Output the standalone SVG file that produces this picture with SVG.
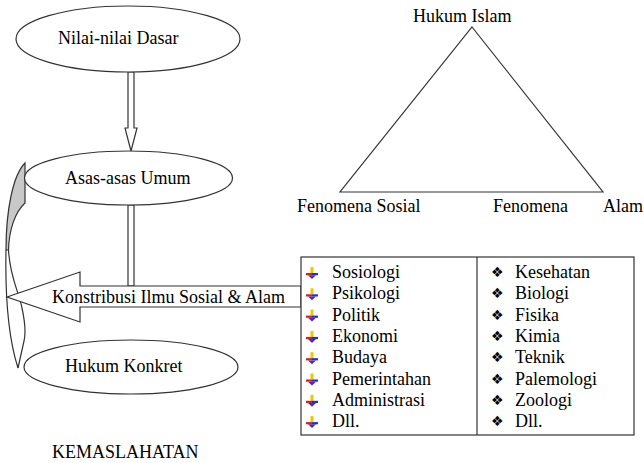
<svg xmlns="http://www.w3.org/2000/svg" width="644" height="463" viewBox="0 0 644 463" font-family="'Liberation Serif', 'Times New Roman', 'DejaVu Serif', serif" font-size="18">
<defs>
<style>
.t{font-family:"Liberation Serif","Times New Roman","DejaVu Serif",serif;font-size:18px;fill:#000}
.ln{fill:none;stroke:#333;stroke-width:1.2}
.sh{fill:#fff;stroke:#333;stroke-width:1.2}
.dia{font-family:"DejaVu Sans",sans-serif;font-size:14px;fill:#000}
</style>
<g id="bul">
<rect x="4.5" y="0" width="3" height="6" fill="#f5c400"/>
<rect x="0" y="6" width="6" height="2.2" fill="#d62020"/>
<rect x="6" y="6" width="6" height="2.2" fill="#2030c8"/>
<polygon points="2,8.2 10,8.2 6,12" fill="#5a2a9a"/>
</g>
</defs>
<rect width="644" height="463" fill="#fff"/>

<g id="connectors">
<polygon class="sh" points="128,72 134,72 134,128 137,128 131,151 125,128 128,128"/>
<rect class="sh" x="128" y="205" width="6" height="81"/>
<g id="curved-arrow">
<path d="M25,163 C13,175 6,210 6,250 L8.5,250 C9,230 15,212 25,203 Z" fill="#c8c8c8" stroke="#333" stroke-width="1.2"/>
<path class="ln" d="M6,250 C5,300 9,340 18,368"/>
<path class="ln" d="M8.5,250 C10,278 19,292 22,308 C25,322 25.5,335 24,341 L18,368"/>
</g>
</g>

<g id="node-nilai">
<ellipse class="sh" cx="128" cy="39" rx="112" ry="33"/>
<text class="t" x="58" y="44">Nilai-nilai Dasar</text>
</g>

<g id="node-asas">
<ellipse class="sh" cx="128.5" cy="178" rx="104" ry="27"/>
<text class="t" x="65" y="184">Asas-asas Umum</text>
</g>

<g id="node-konstribusi">
<polygon class="sh" points="7,297 80,272 80,286 301,286 301,307 80,307 80,322"/>
<text class="t" x="52" y="303">Konstribusi Ilmu Sosial &amp; Alam</text>
</g>

<g id="node-konkret">
<ellipse class="sh" cx="131" cy="367" rx="107" ry="27"/>
<text class="t" x="65" y="372">Hukum Konkret</text>
</g>

<g id="node-kemaslahatan">
<text class="t" x="52" y="458">KEMASLAHATAN</text>
</g>

<g id="node-triangle">
<polygon class="ln" points="472,27 603,192 340,192"/>
<text class="t" x="413" y="22">Hukum Islam</text>
<text class="t" x="297" y="212">Fenomena Sosial</text>
<text class="t" x="493" y="212">Fenomena</text>
<text class="t" x="603" y="212">Alam</text>
</g>

<g id="node-table">
<rect class="sh" x="301" y="257" width="333" height="178"/>
<line class="ln" x1="477" y1="257" x2="477" y2="435"/>
<use href="#bul" x="306" y="267"/>
<use href="#bul" x="306" y="288.3"/>
<use href="#bul" x="306" y="309.6"/>
<use href="#bul" x="306" y="330.9"/>
<use href="#bul" x="306" y="352.2"/>
<use href="#bul" x="306" y="373.5"/>
<use href="#bul" x="306" y="394.8"/>
<use href="#bul" x="306" y="416.1"/>
<text class="t" x="332" y="278">Sosiologi</text>
<text class="t" x="332" y="299.3">Psikologi</text>
<text class="t" x="332" y="320.6">Politik</text>
<text class="t" x="332" y="341.9">Ekonomi</text>
<text class="t" x="332" y="363.2">Budaya</text>
<text class="t" x="332" y="384.5">Pemerintahan</text>
<text class="t" x="332" y="405.8">Administrasi</text>
<text class="t" x="332" y="427.1">Dll.</text>
<text class="dia" x="491" y="277">❖</text>
<text class="dia" x="491" y="298.3">❖</text>
<text class="dia" x="491" y="319.6">❖</text>
<text class="dia" x="491" y="340.9">❖</text>
<text class="dia" x="491" y="362.2">❖</text>
<text class="dia" x="491" y="383.5">❖</text>
<text class="dia" x="491" y="404.8">❖</text>
<text class="dia" x="491" y="426.1">❖</text>
<text class="t" x="515" y="278">Kesehatan</text>
<text class="t" x="515" y="299.3">Biologi</text>
<text class="t" x="515" y="320.6">Fisika</text>
<text class="t" x="515" y="341.9">Kimia</text>
<text class="t" x="515" y="363.2">Teknik</text>
<text class="t" x="515" y="384.5">Palemologi</text>
<text class="t" x="515" y="405.8">Zoologi</text>
<text class="t" x="515" y="427.1">Dll.</text>
</g>
</svg>
